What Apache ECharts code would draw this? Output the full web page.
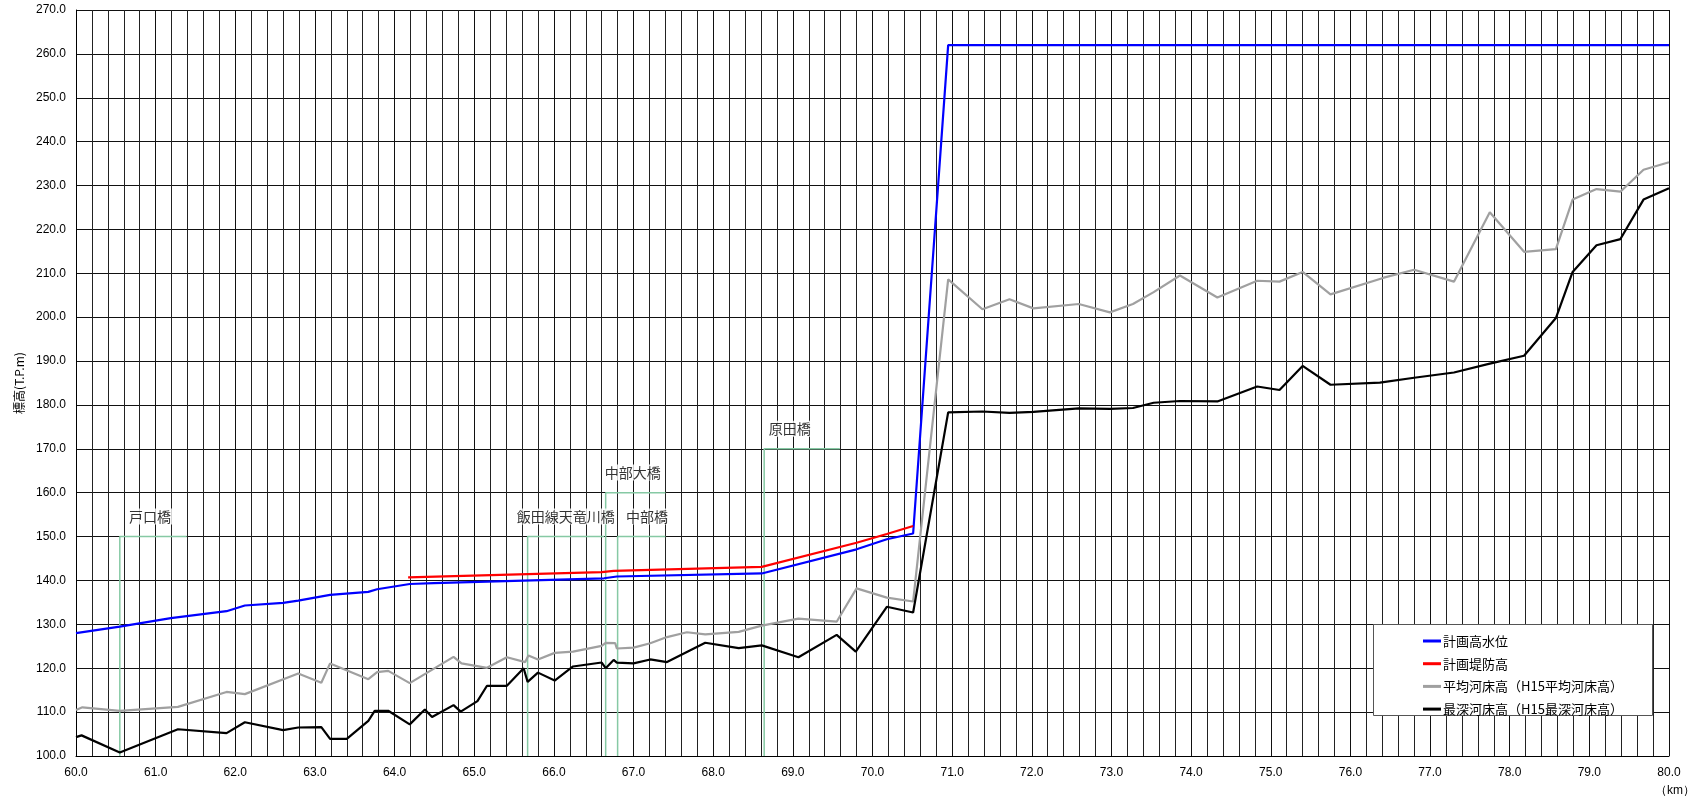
<!DOCTYPE html>
<html>
<head>
<meta charset="utf-8">
<script src="https://cdn.jsdelivr.net/npm/echarts@6/dist/echarts.min.js"></script>
<style>
html,body{margin:0;padding:0;background:#fff;}
#chart{width:1693px;height:805px;}
</style>
</head>
<body>
<div id="chart"></div>
<script>
// 計画高水位
const hwlKm  = [60.0, 60.55, 61.19, 61.89, 62.12, 62.6, 62.79, 63.19, 63.67, 63.78, 64.19, 64.49, 66.63, 66.79, 68.61, 69.8, 70.18, 70.51, 70.95, 80.0];
const hwlVal = [128.0, 129.5, 131.4, 133.0, 134.3, 134.9, 135.4, 136.7, 137.4, 138.0, 139.2, 139.4, 140.5, 140.9, 141.6, 147.1, 149.4, 150.7, 262.0, 262.0];

// 計画堤防高
const leveeKm  = [64.17, 66.6, 66.75, 68.61, 69.8, 70.18, 70.51];
const leveeVal = [140.7, 141.9, 142.2, 143.1, 148.6, 150.6, 152.4];

// 平均河床高(H15平均河床高)
const avgKm  = [60.0, 60.08, 60.55, 61.28, 61.89, 62.12, 62.79, 63.08, 63.19, 63.67, 63.78, 63.92, 64.19, 64.74, 64.84, 65.16, 65.41, 65.64, 65.68, 65.8, 66.01, 66.24, 66.6, 66.65, 66.77, 66.79, 67.0, 67.21, 67.42, 67.67, 67.9, 68.32, 68.61, 69.07, 69.55, 69.8, 70.18, 70.51, 70.95, 71.38, 71.72, 72.02, 72.59, 72.98, 73.27, 73.53, 73.86, 74.33, 74.83, 75.11, 75.4, 75.75, 76.42, 76.8, 77.3, 77.75, 78.18, 78.58, 78.79, 79.09, 79.39, 79.68, 80.0];
const avgVal = [110.5, 111.1, 110.3, 111.2, 114.6, 114.1, 118.8, 116.7, 121.1, 117.5, 119.1, 119.4, 116.6, 122.6, 121.1, 120.1, 122.5, 121.4, 122.9, 122.0, 123.5, 123.8, 125.1, 125.8, 125.7, 124.5, 124.7, 125.7, 127.1, 128.2, 127.7, 128.3, 129.7, 131.3, 130.6, 138.2, 136.1, 135.2, 208.6, 201.8, 204.1, 202.0, 203.0, 201.1, 203.0, 205.7, 209.5, 204.5, 208.3, 208.1, 210.3, 205.2, 209.0, 210.8, 208.1, 223.9, 214.9, 215.5, 226.8, 229.2, 228.6, 233.6, 235.3];

// 最深河床高(H15最深河床高)
const deepKm  = [60.0, 60.07, 60.55, 61.28, 61.89, 62.12, 62.6, 62.79, 63.08, 63.19, 63.4, 63.67, 63.75, 63.92, 64.19, 64.38, 64.47, 64.74, 64.83, 65.04, 65.16, 65.41, 65.62, 65.67, 65.8, 66.01, 66.24, 66.6, 66.65, 66.75, 66.79, 67.0, 67.21, 67.42, 67.9, 68.32, 68.61, 69.07, 69.55, 69.79, 70.18, 70.51, 70.95, 71.38, 71.72, 72.02, 72.59, 72.98, 73.27, 73.53, 73.86, 74.33, 74.83, 75.11, 75.4, 75.75, 76.37, 76.8, 77.3, 77.75, 78.18, 78.58, 78.79, 79.09, 79.39, 79.68, 80.0];
const deepVal = [104.3, 104.7, 100.8, 106.1, 105.2, 107.7, 105.9, 106.5, 106.6, 103.9, 103.9, 108.0, 110.3, 110.3, 107.2, 110.6, 108.9, 111.6, 110.1, 112.5, 116.0, 116.0, 120.0, 116.9, 119.0, 117.2, 120.4, 121.3, 120.0, 121.9, 121.3, 121.1, 122.0, 121.4, 125.8, 124.6, 125.2, 122.5, 127.6, 123.8, 134.0, 132.7, 178.3, 178.5, 178.2, 178.4, 179.2, 179.1, 179.3, 180.5, 180.9, 180.8, 184.2, 183.4, 188.9, 184.6, 185.1, 186.2, 187.4, 189.4, 191.2, 199.8, 210.3, 216.4, 217.8, 226.8, 229.4];

// 橋梁
const bridgeNames = ['戸口橋', '飯田線天竜川橋', '中部大橋', '中部橋', '原田橋'];
const bridgeKm    = [60.55, 65.67, 66.65, 66.8, 68.64];
const bridgeTop   = [150, 150, 160, 150, 170];
const bridgeEnd   = [61.39, 66.63, 67.4, 67.4, 69.59];
const bridgeLabelKm = [60.93, 66.15, 66.99, 67.17, 68.96];

// axes
const xMin = 60, xMax = 80, yMin = 100, yMax = 270;
const seriesNames = ['計画高水位', '計画堤防高', '平均河床高（H15平均河床高）', '最深河床高（H15最深河床高）'];
const seriesColors = ['#0000ff', '#ff0000', '#a0a0a0', '#000000'];

const zip = (a, b) => a.map((v, i) => [v, b[i]]);
const numFont = 'Liberation Sans, Arial, sans-serif';
const jpFont = 'Noto Sans CJK JP, sans-serif';
const labelLift = 4.6; // label raised above the bridge top (in axis units ≈ 20px)

const bridgeSeries = bridgeNames.map((n, i) => ({
  type: 'line',
  name: 'bridge' + i,
  data: [[bridgeKm[i], yMin], [bridgeKm[i], bridgeTop[i]], [bridgeEnd[i], bridgeTop[i]]],
  symbol: 'none',
  silent: true,
  z: 1,
  lineStyle: { color: '#86c9a4', width: 1.5 },
  animation: false
}));

const bridgeLabelSeries = {
  type: 'scatter',
  name: 'bridgeLabels',
  data: bridgeNames.map((n, i) => [bridgeLabelKm[i], bridgeTop[i] + labelLift, n]),
  symbolSize: 2,
  itemStyle: { color: 'rgba(255,255,255,0)' },
  z: 5,
  silent: true,
  label: {
    show: true,
    position: 'inside',
    formatter: p => p.data[2],
    color: '#000',
    fontSize: 14,
    fontFamily: jpFont,
    backgroundColor: '#fff',
    padding: [1, 2]
  },
  animation: false
};

const mainData = [zip(hwlKm, hwlVal), zip(leveeKm, leveeVal), zip(avgKm, avgVal), zip(deepKm, deepVal)];
const mainSeries = seriesNames.map((n, i) => ({
  type: 'line',
  name: n,
  data: mainData[i],
  symbol: 'none',
  z: 3,
  lineStyle: { color: seriesColors[i], width: 2.2 },
  itemStyle: { color: seriesColors[i] },
  animation: false
}));

const chart = echarts.init(document.getElementById('chart'));
chart.setOption({
  animation: false,
  backgroundColor: '#fff',
  grid: { left: 76, right: 24, top: 10, bottom: 49, containLabel: false },
  xAxis: {
    type: 'value', min: xMin, max: xMax, interval: 1,
    axisLine: { show: true, lineStyle: { color: '#000', width: 1 } },
    axisTick: { show: false },
    axisLabel: { formatter: v => v.toFixed(1), fontSize: 12, color: '#000', margin: 11, fontFamily: numFont },
    splitLine: { show: true, lineStyle: { color: '#111', width: 1 } },
    minorTick: { show: false, splitNumber: 5 },
    minorSplitLine: { show: true, lineStyle: { color: '#222', width: 1 } }
  },
  yAxis: {
    type: 'value', min: yMin, max: yMax, interval: 10,
    name: '標高(T.P.m)', nameLocation: 'middle', nameGap: 50, nameRotate: 90,
    nameTextStyle: { fontSize: 12, color: '#000', fontFamily: jpFont },
    axisLine: { show: true, lineStyle: { color: '#000', width: 1 } },
    axisTick: { show: false },
    axisLabel: { formatter: v => v.toFixed(1), fontSize: 12, color: '#000', margin: 10, fontFamily: numFont },
    splitLine: { show: true, lineStyle: { color: '#111', width: 1 } }
  },
  legend: {
    data: seriesNames,
    orient: 'vertical',
    left: 1418, top: 629,
    itemWidth: 18, itemHeight: 3, itemGap: 8.7,
    icon: 'rect',
    textStyle: { fontSize: 13, color: '#000', fontFamily: jpFont, lineHeight: 14, padding: [0, 0, 0, -3] },
    z: 20,
    selectedMode: false
  },
  graphic: [
    { type: 'rect', z: 10, shape: { x: 1373.5, y: 624.5, width: 279, height: 91 }, style: { fill: '#fff', stroke: '#555', lineWidth: 1 } },
    { type: 'text', z: 10, left: 1655, top: 785, style: { text: '（km）', fontSize: 12, fill: '#000', font: '12px Noto Sans CJK JP' } }
  ],
  series: [...bridgeSeries, ...mainSeries, bridgeLabelSeries]
});
</script>
</body>
</html>
